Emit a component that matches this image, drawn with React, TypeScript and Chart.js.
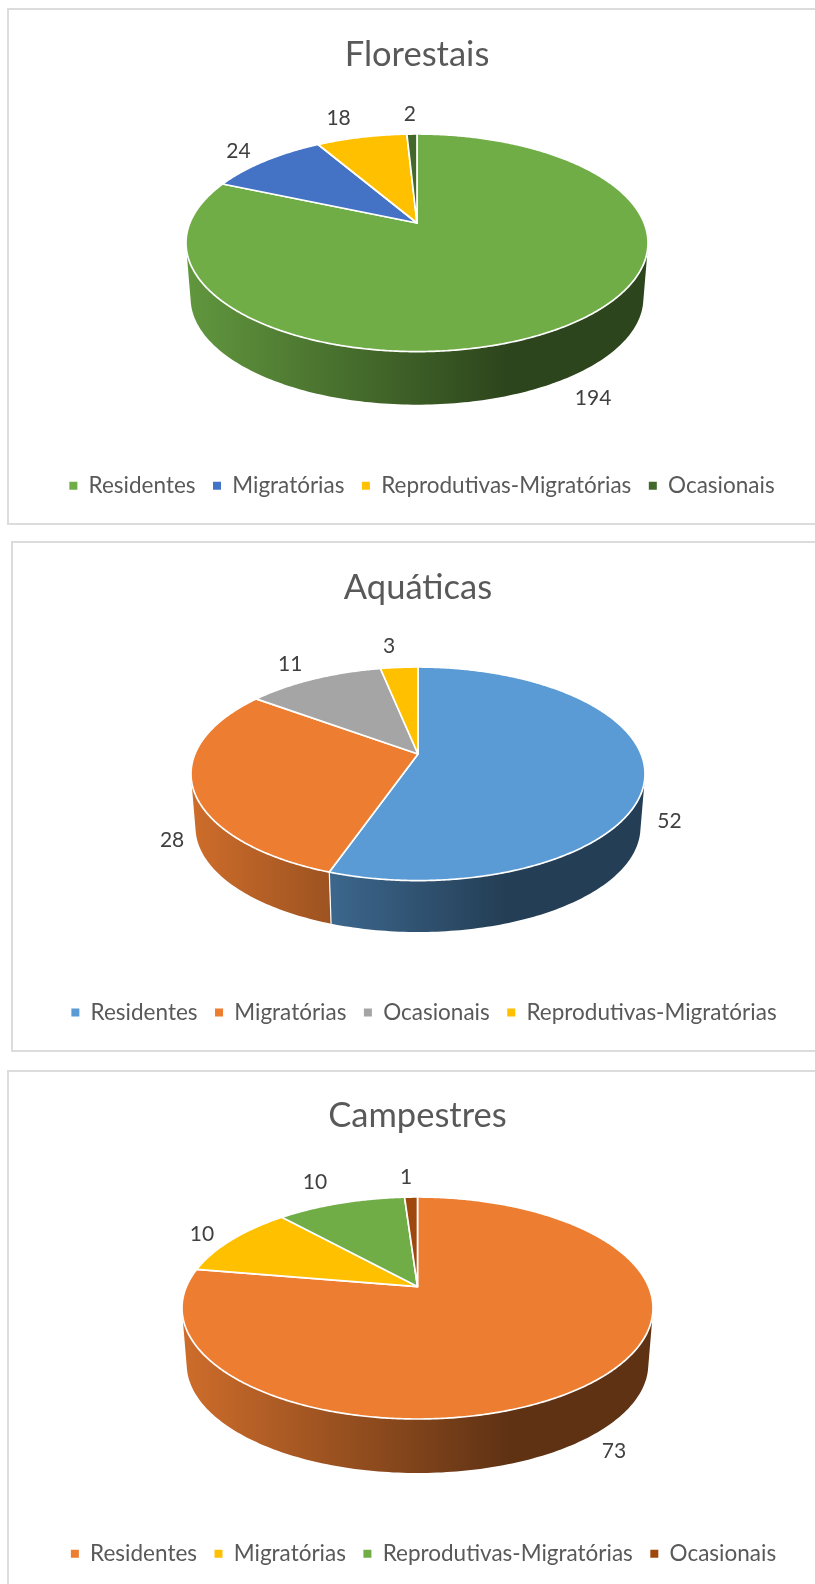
import React, { useEffect, useRef } from "react";
import { Chart, registerables } from "chart.js";

Chart.register(...registerables);

const florestaisCategories = ["Residentes", "Migratórias", "Reprodutivas-Migratórias", "Ocasionais"];
const florestaisValues = [194, 24, 18, 2];
const florestaisColors = ["#70AD47", "#4472C4", "#FFC000", "#43682B"];

const aquaticasCategories = ["Residentes", "Migratórias", "Ocasionais", "Reprodutivas-Migratórias"];
const aquaticasValues = [52, 28, 11, 3];
const aquaticasColors = ["#5B9BD5", "#ED7D31", "#A5A5A5", "#FFC000"];

const campestresCategories = ["Residentes", "Migratórias", "Reprodutivas-Migratórias", "Ocasionais"];
const campestresValues = [73, 10, 10, 1];
const campestresColors = ["#ED7D31", "#FFC000", "#70AD47", "#9E480E"];

const FONT = "Lato, Carlito, Calibri, sans-serif";

type Spec = {
  title: string; categories: string[]; values: number[]; colors: string[];
  canvasTop: number; canvasHeight: number; cx: number; rx: number; top: number; bottom: number; apex: number;
  lowerBottom: number; titlePad: number; legendPad: number; legendShift: number;
  labelOffsets: number[][];
  panel: { left: number; top: number; height: number };
};

const specs: Spec[] = [
  {
    title: "Florestais", categories: florestaisCategories, values: florestaisValues, colors: florestaisColors,
    canvasTop: 8, canvasHeight: 516, cx: 417, rx: 231, top: 134, bottom: 351.6, apex: 223, lowerBottom: 404.7,
    titlePad: 26, legendPad: 17, legendShift: 5,
    labelOffsets: [[32, 18], [-27, -9], [-23, -19], [-2, -20]],
    panel: { left: 7, top: 8, height: 517 },
  },
  {
    title: "Aquáticas", categories: aquaticasCategories, values: aquaticasValues, colors: aquaticasColors,
    canvasTop: 541, canvasHeight: 510, cx: 418, rx: 227, top: 667, bottom: 880.6, apex: 754, lowerBottom: 932,
    titlePad: 26, legendPad: 17.3, legendShift: 6,
    labelOffsets: [[29, -4], [-25, 1], [-24, -15], [-10, -21]],
    panel: { left: 11, top: 541, height: 511 },
  },
  {
    title: "Campestres", categories: campestresCategories, values: campestresValues, colors: campestresColors,
    canvasTop: 1069, canvasHeight: 525, cx: 417.5, rx: 235.5, top: 1197, bottom: 1419, apex: 1286.6, lowerBottom: 1473,
    titlePad: 26, legendPad: 19, legendShift: 6,
    labelOffsets: [[25, 14], [-30, -5], [-26, -20.6], [-5, -20]],
    panel: { left: 7, top: 1070, height: 540 },
  },
];

function shade(hex: string, f: number) {
  const n = parseInt(hex.slice(1), 16);
  const c = [(n >> 16) & 255, (n >> 8) & 255, n & 255].map((x) => Math.round(x * f));
  return `rgb(${c[0]},${c[1]},${c[2]})`;
}

function makeProjector(s: Spec) {
  const above = s.apex - s.top;
  const below = s.bottom - s.apex;
  const p = (below - above) / (below + above);
  const B = above * (1 + p);
  const A = s.rx * Math.sqrt(1 - p * p);
  const k = 0.98;
  const depth = s.lowerBottom - s.apex - k * below;
  const ay = s.apex - s.canvasTop;
  return (theta: number, lower: boolean): [number, number] => {
    const u = Math.sin(theta);
    const v = -Math.cos(theta);
    const w = 1 - p * v;
    const sc = lower ? k : 1;
    return [s.cx + (sc * A * u) / w, ay + (lower ? depth : 0) + (sc * B * v) / w];
  };
}

function pie3dPlugin(s: Spec) {
  const project = makeProjector(s);
  const STEP = Math.PI / 180;
  return {
    id: "pie3d",
    afterLayout(chart: any) {
      const lg = chart.legend;
      if (lg && !lg.$shifted) {
        lg.left += s.legendShift;
        lg.right += s.legendShift;
        lg.$shifted = true;
      }
    },
    beforeUpdate(chart: any) {
      if (chart.legend) chart.legend.$shifted = false;
    },
    beforeDatasetsDraw(chart: any) {
      const ctx = chart.ctx as CanvasRenderingContext2D;
      const arcs = chart.getDatasetMeta(0).data;
      const left = s.cx - s.rx;
      const right = s.cx + s.rx;
      ctx.save();
      // side wall: each slice is one path of consistently wound quads, so no seams show
      const order = arcs
        .map((arc: any, i: number) => ({ arc, i, v: -Math.cos((arc.startAngle + arc.endAngle) / 2 + Math.PI / 2) }))
        .sort((x: any, y: any) => x.v - y.v);
      for (const { arc, i } of order) {
        const col = s.colors[i];
        const g = ctx.createLinearGradient(left, 0, right, 0);
        g.addColorStop(0, shade(col, 0.87));
        g.addColorStop(0.695, shade(col, 0.4));
        g.addColorStop(1, shade(col, 0.4));
        const a0 = arc.startAngle + Math.PI / 2;
        const a1 = arc.endAngle + Math.PI / 2;
        ctx.beginPath();
        for (let a = a0; a < a1 - 1e-6; a += STEP) {
          const b = Math.min(a + STEP, a1);
          let pts = [project(a, false), project(b, false), project(b, true), project(a, true)];
          let area = 0;
          for (let j = 0; j < 4; j++) {
            const n = pts[(j + 1) % 4];
            area += pts[j][0] * n[1] - n[0] * pts[j][1];
          }
          if (area < 0) pts = pts.reverse();
          ctx.moveTo(pts[0][0], pts[0][1]);
          for (let j = 1; j < 4; j++) ctx.lineTo(pts[j][0], pts[j][1]);
          ctx.closePath();
        }
        ctx.fillStyle = g;
        ctx.fill("nonzero");
      }
      // seams on the front of the wall
      ctx.strokeStyle = "#ffffff";
      ctx.lineWidth = 1.2;
      arcs.forEach((arc: any) => {
        const a = arc.startAngle + Math.PI / 2;
        if (-Math.cos(a) > 0.1) {
          const p1 = project(a, false);
          const p2 = project(a, true);
          ctx.beginPath();
          ctx.moveTo(p1[0], p1[1]);
          ctx.lineTo(p2[0], p2[1]);
          ctx.stroke();
        }
      });
      // top face
      ctx.lineJoin = "round";
      ctx.lineWidth = 1.7;
      const apex: [number, number] = [s.cx, s.apex - s.canvasTop];
      arcs.forEach((arc: any, i: number) => {
        const a0 = arc.startAngle + Math.PI / 2;
        const a1 = arc.endAngle + Math.PI / 2;
        ctx.beginPath();
        ctx.moveTo(apex[0], apex[1]);
        for (let a = a0; a < a1; a += STEP / 2) {
          const q = project(a, false);
          ctx.lineTo(q[0], q[1]);
        }
        const e = project(a1, false);
        ctx.lineTo(e[0], e[1]);
        ctx.closePath();
        ctx.fillStyle = s.colors[i];
        ctx.fill();
        ctx.strokeStyle = "#ffffff";
        ctx.stroke();
      });
      ctx.restore();
      return false;
    },
    afterDraw(chart: any) {
      const ctx = chart.ctx as CanvasRenderingContext2D;
      const arcs = chart.getDatasetMeta(0).data;
      ctx.save();
      ctx.font = `21px ${FONT}`;
      ctx.fillStyle = "#404040";
      ctx.textAlign = "center";
      ctx.textBaseline = "middle";
      arcs.forEach((arc: any, i: number) => {
        const mid = (arc.startAngle + arc.endAngle) / 2 + Math.PI / 2;
        const front = -Math.cos(mid) > 0;
        const q = project(mid, front);
        const off = s.labelOffsets[i];
        ctx.fillText(String(s.values[i]), q[0] + off[0], q[1] + off[1]);
      });
      ctx.restore();
    },
  };
}

function PieCanvas({ spec }: { spec: Spec }) {
  const ref = useRef<HTMLCanvasElement | null>(null);
  useEffect(() => {
    const chart = new Chart(ref.current as HTMLCanvasElement, {
      type: "pie",
      data: {
        labels: spec.categories,
        datasets: [{ data: spec.values, backgroundColor: spec.colors, borderWidth: 0 }],
      },
      options: {
        animation: false,
        responsive: false,
        layout: { padding: { bottom: spec.legendPad } },
        plugins: {
          title: {
            display: true,
            text: spec.title,
            color: "#595959",
            font: { family: FONT, size: 34.5, weight: "normal" },
            padding: { top: spec.titlePad, bottom: 0 },
          },
          legend: {
            position: "bottom",
            labels: {
              usePointStyle: true,
              pointStyle: "rect",
              boxWidth: 8,
              boxHeight: 8,
              pointStyleWidth: 8,
              padding: 17.5,
              color: "#595959",
              font: { family: FONT, size: 22.5 },
            },
          },
          tooltip: { enabled: false },
        },
      },
      plugins: [pie3dPlugin(spec) as any],
    } as any);
    return () => chart.destroy();
  }, [spec]);
  return (
    <canvas
      ref={ref}
      width={Math.round(spec.cx * 2)}
      height={spec.canvasHeight}
      style={{ position: "absolute", left: 0, top: spec.canvasTop, display: "block" }}
    />
  );
}

export default function App() {
  return (
    <div style={{ position: "fixed", left: 0, top: 0, width: 815, height: 1584, overflow: "hidden", background: "#fff" }}>
      {specs.map((s) => (
        <div
          key={s.title + "-panel"}
          style={{
            position: "absolute", left: s.panel.left, top: s.panel.top, width: 900, height: s.panel.height,
            boxSizing: "border-box", border: "2px solid #dcdcdc", background: "#fff",
          }}
        />
      ))}
      {specs.map((s) => (
        <PieCanvas key={s.title} spec={s} />
      ))}
    </div>
  );
}
